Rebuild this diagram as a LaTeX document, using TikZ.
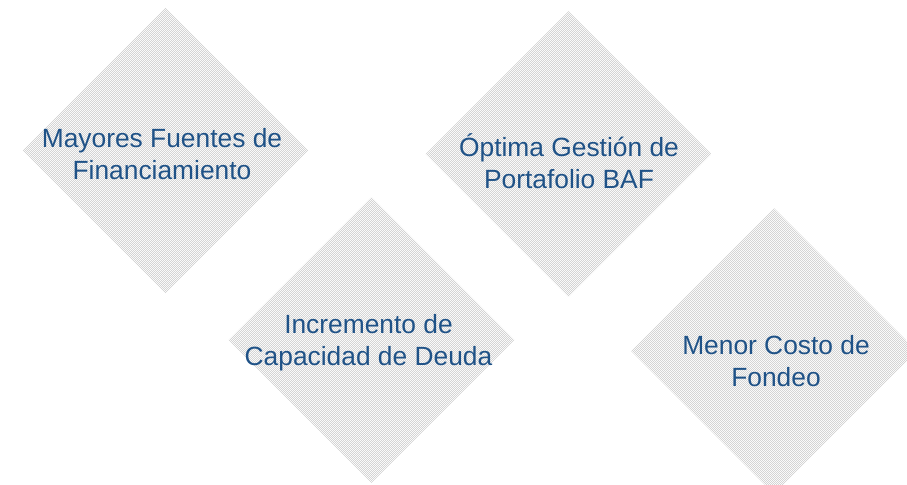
\documentclass[tikz,border=0pt]{standalone}
\usepackage{fontspec}
\setmainfont{Liberation Sans}
\usepackage{tikz}
\usetikzlibrary{shapes.geometric, patterns}

\definecolor{textblue}{RGB}{31,82,135}

\pgfdeclarepatternformonly{finecheck}{\pgfpointorigin}{\pgfpoint{1.138pt}{1.138pt}}{\pgfpoint{1.138pt}{1.138pt}}{
 \pgfpathrectangle{\pgfpointorigin}{\pgfpoint{0.569pt}{0.569pt}}
 \pgfpathrectangle{\pgfpoint{0.569pt}{0.569pt}}{\pgfpoint{0.569pt}{0.569pt}}
 \pgfusepath{fill}
}

\tikzset{
 tile/.style={diamond,
 inner sep=0pt,
 minimum width=5.72cm,
 minimum height=5.72cm,
 pattern=finecheck,
 pattern color=black!17},
 caption/.style={align=center,
 text=textblue,
 font=\fontsize{15}{18.2}\selectfont}
}

\begin{document}
\begin{tikzpicture}[x=0.02cm, y=0.02cm]
 \useasboundingbox (0,0) rectangle (907,484);

 \node[tile] (A) at (165.5,333.5) {};
 \node[tile] (B) at (568.5,330) {};
 \node[tile] (C) at (371.5,144) {};
 \node[tile] (D) at (774,133) {};

 \node[caption] (tA) at (162,329.5) {Mayores Fuentes de\\Financiamiento};
 \node[caption] (tB) at (569,323) {Óptima Gestión de\\Portafolio BAF};
 \node[caption] (tC) at (368.5,141) {Incremento de\\Capacidad de Deuda};
 \node[caption] (tD) at (776,123) {Menor Costo de\\Fondeo};

\end{tikzpicture}
\end{document}
